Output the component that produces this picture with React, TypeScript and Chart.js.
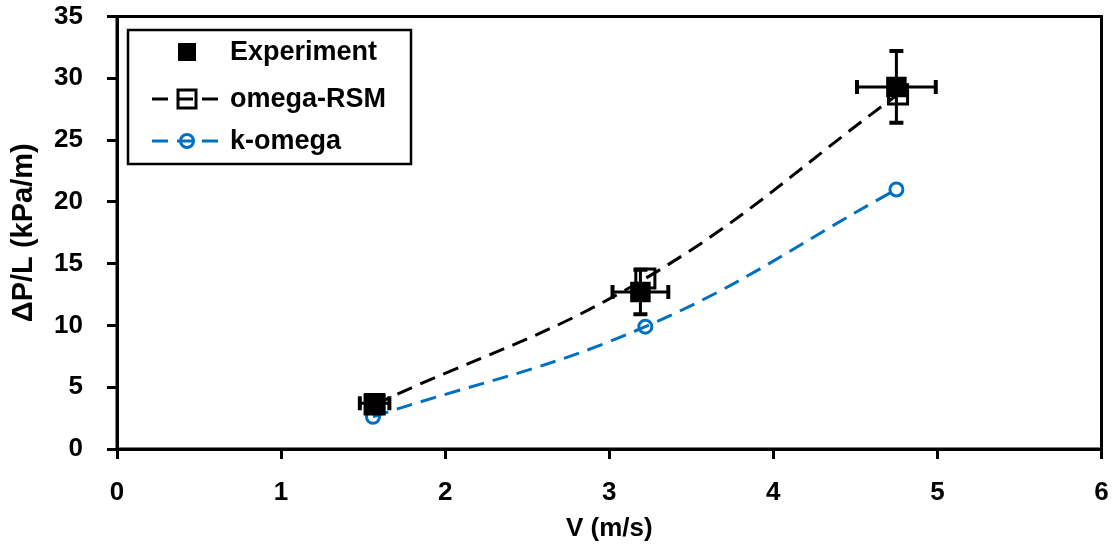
import React, { useEffect, useRef } from "react";
import { Chart, registerables } from "chart.js";

Chart.register(...registerables);

// ---- data ----
const expX = [1.57, 3.19, 4.75];
const expY = [3.7, 12.7, 29.3];
const expXErr = [0.09, 0.17, 0.24];
const expYErr = [0.4, 1.8, 2.9];

const rsmX = [1.57, 3.22, 4.76];
const rsmY = [3.6, 13.8, 28.7];

const kwX = [1.56, 3.22, 4.75];
const kwY = [2.6, 9.9, 21.0];

const xTicks = [0, 1, 2, 3, 4, 5, 6];
const yTicks = [0, 5, 10, 15, 20, 25, 30, 35];

const seriesNames = ["Experiment", "omega-RSM", "k-omega"];

const BLUE = "#0070C0";
const FONT = "'Liberation Sans', Arial, sans-serif";

const errorBarPlugin = {
  id: "errorBars",
  afterDatasetsDraw(chart: any) {
    const ctx = chart.ctx;
    const xs = chart.scales.x;
    const ys = chart.scales.y;
    ctx.save();
    ctx.strokeStyle = "#000";
    const cap = 7;
    for (let i = 0; i < expX.length; i++) {
      const cx = xs.getPixelForValue(expX[i]);
      const cy = ys.getPixelForValue(expY[i]);
      const x0 = xs.getPixelForValue(expX[i] - expXErr[i]);
      const x1 = xs.getPixelForValue(expX[i] + expXErr[i]);
      const y0 = ys.getPixelForValue(expY[i] - expYErr[i]);
      const y1 = ys.getPixelForValue(expY[i] + expYErr[i]);
      ctx.lineWidth = 3;
      ctx.beginPath();
      ctx.moveTo(x0, cy);
      ctx.lineTo(x1, cy);
      ctx.moveTo(cx, y0);
      ctx.lineTo(cx, y1);
      ctx.stroke();
      ctx.lineWidth = 4;
      ctx.beginPath();
      ctx.moveTo(x0, cy - cap);
      ctx.lineTo(x0, cy + cap);
      ctx.moveTo(x1, cy - cap);
      ctx.lineTo(x1, cy + cap);
      ctx.moveTo(cx - cap, y0);
      ctx.lineTo(cx + cap, y0);
      ctx.moveTo(cx - cap, y1);
      ctx.lineTo(cx + cap, y1);
      ctx.stroke();
    }
    ctx.restore();
  },
};

const framePlugin = {
  id: "frameAndLegend",
  afterDraw(chart: any) {
    const ctx = chart.ctx;
    const a = chart.chartArea;
    ctx.save();
    // plot frame
    ctx.strokeStyle = "#000";
    ctx.lineWidth = 3;
    ctx.strokeRect(a.left, a.top, a.right - a.left, a.bottom - a.top);

    // legend box
    const bx = 128, by = 30, bw = 283, bh = 134;
    ctx.fillStyle = "#fff";
    ctx.fillRect(bx, by, bw, bh);
    ctx.lineWidth = 2.5;
    ctx.strokeRect(bx, by, bw, bh);

    const rows = [52, 99, 141];
    const mx = 187;
    const lx0 = 152, lx1 = 222;
    const tx = 230;

    // Experiment
    ctx.fillStyle = "#000";
    ctx.fillRect(mx - 9, rows[0] - 9, 18, 18);

    // omega-RSM
    ctx.setLineDash([16, 9]);
    ctx.lineWidth = 3;
    ctx.strokeStyle = "#000";
    ctx.beginPath();
    ctx.moveTo(lx0, rows[1]);
    ctx.lineTo(lx1, rows[1]);
    ctx.stroke();
    ctx.setLineDash([]);
    ctx.strokeRect(mx - 9, rows[1] - 9, 18, 18);

    // k-omega
    ctx.setLineDash([16, 9]);
    ctx.strokeStyle = BLUE;
    ctx.beginPath();
    ctx.moveTo(lx0, rows[2]);
    ctx.lineTo(lx1, rows[2]);
    ctx.stroke();
    ctx.setLineDash([]);
    ctx.beginPath();
    ctx.arc(mx, rows[2], 6.5, 0, Math.PI * 2);
    ctx.stroke();

    ctx.fillStyle = "#000";
    ctx.font = `bold 27px ${FONT}`;
    ctx.textAlign = "left";
    ctx.textBaseline = "middle";
    seriesNames.forEach((n, i) => ctx.fillText(n, tx, rows[i] + 1));
    ctx.restore();
  },
};

export default function App() {
  const ref = useRef<HTMLCanvasElement | null>(null);
  useEffect(() => {
    if (!ref.current) return;
    const gridOpts = {
      display: true,
      drawOnChartArea: false,
      drawTicks: true,
      tickLength: 10,
      tickWidth: 3,
      tickColor: "#000",
      color: "#000",
      lineWidth: 3,
    };
    const zeroPad = (s: any) => {
      s.paddingTop = 0;
      s.paddingBottom = 0;
      s.paddingLeft = 0;
      s.paddingRight = 0;
    };
    const chart = new Chart(ref.current, {
      type: "scatter",
      data: {
        datasets: [
          {
            label: seriesNames[0],
            data: expX.map((x, i) => ({ x, y: expY[i] })),
            showLine: false,
            pointStyle: "rect",
            pointRadius: 14.5,
            backgroundColor: "#000",
            borderColor: "#000",
            borderWidth: 0,
          },
          {
            label: seriesNames[1],
            data: rsmX.map((x, i) => ({ x, y: rsmY[i] })),
            showLine: true,
            borderDash: [16, 9],
            borderColor: "#000",
            borderWidth: 3,
            tension: 0.4,
            pointStyle: "rect",
            pointRadius: 13.5,
            pointBorderWidth: 3,
            pointBorderColor: "#000",
            pointBackgroundColor: "rgba(0,0,0,0)",
          },
          {
            label: seriesNames[2],
            data: kwX.map((x, i) => ({ x, y: kwY[i] })),
            showLine: true,
            borderDash: [16, 9],
            borderColor: BLUE,
            borderWidth: 3,
            tension: 0.4,
            pointStyle: "circle",
            pointRadius: 6.5,
            pointBorderWidth: 3,
            pointBorderColor: BLUE,
            pointBackgroundColor: "rgba(0,0,0,0)",
          },
        ],
      },
      options: {
        animation: false,
        responsive: false,
        maintainAspectRatio: false,
        layout: { padding: { top: 16, right: 9, left: 0, bottom: 0 } },
        plugins: { legend: { display: false }, tooltip: { enabled: false } },
        scales: {
          x: {
            type: "linear",
            min: 0,
            max: 6,
            afterFit: (s: any) => {
              s.height = 98;
              zeroPad(s);
            },
            afterBuildTicks: (s: any) => {
              s.ticks = xTicks.map((v) => ({ value: v }));
            },
            grid: gridOpts,
            border: { display: true, color: "#000", width: 3 },
            ticks: {
              color: "#000",
              padding: 18,
              font: { family: FONT, size: 26, weight: "bold" },
            },
            title: {
              display: true,
              text: "V (m/s)",
              color: "#000",
              padding: { top: 0, bottom: 3 },
              font: { family: FONT, size: 26, weight: "bold" },
            },
          },
          y: {
            type: "linear",
            min: 0,
            max: 35,
            afterFit: (s: any) => {
              s.width = 117;
              zeroPad(s);
            },
            afterBuildTicks: (s: any) => {
              s.ticks = yTicks.map((v) => ({ value: v }));
            },
            grid: gridOpts,
            border: { display: true, color: "#000", width: 3 },
            ticks: {
              color: "#000",
              padding: 24,
              font: { family: FONT, size: 26, weight: "bold" },
            },
            title: {
              display: true,
              text: "ΔP/L (kPa/m)",
              color: "#000",
              padding: { top: 7, bottom: 0 },
              font: { family: FONT, size: 29, weight: "bold" },
            },
          },
        },
      },
      plugins: [errorBarPlugin, framePlugin],
    } as any);
    return () => chart.destroy();
  }, []);
  return (
    <div style={{ position: "fixed", left: 0, top: 0, width: 1118, height: 547, background: "#fff" }}>
      <canvas ref={ref} width={1118} height={547} />
    </div>
  );
}
